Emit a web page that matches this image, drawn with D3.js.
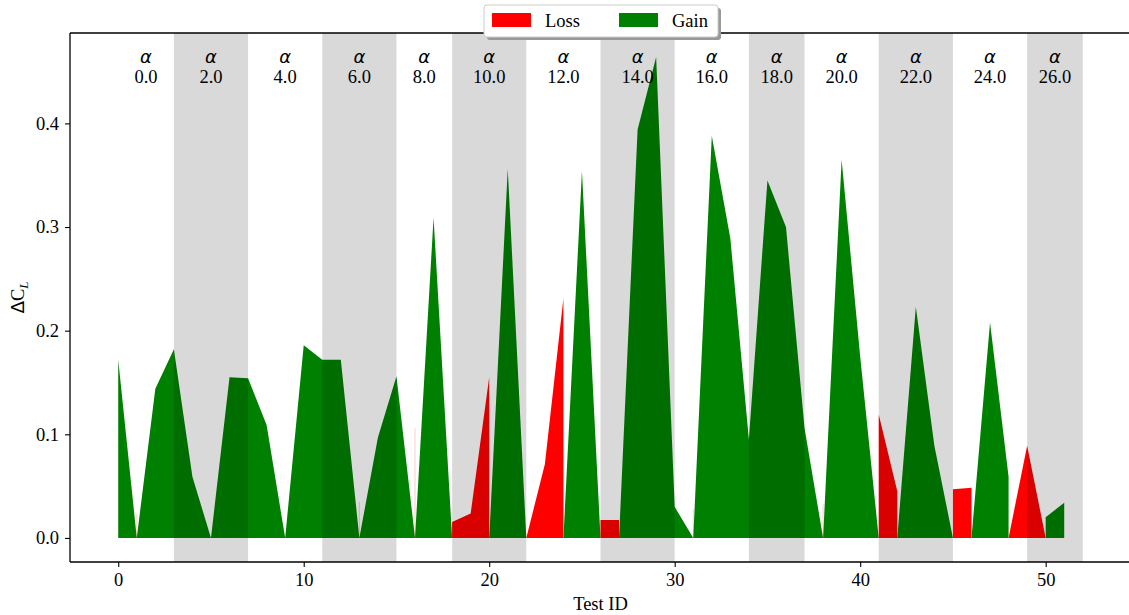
<!DOCTYPE html>
<html>
<head>
<meta charset="utf-8">
<script src="https://cdn.jsdelivr.net/npm/d3@7"></script>
<style>
  body { margin: 0; background: #fff; }
  svg text { font-family: "Liberation Serif", "Times New Roman", serif; }
</style>
</head>
<body>
<div id="chart"></div>
<script>
// ΔC_L per test id; null = not part of that fill
const gain = [0.172, 0, 0.144, 0.182, 0.059, 0, 0.155, 0.154, 0.109, 0,
              0.186, 0.172, 0.172, 0, 0.097, 0.156, 0, 0.309, 0, 0,
              0, 0.356, 0, 0, 0, 0.354, 0, 0, 0.394, 0.464,
              0.030, 0, 0.388, 0.289, 0.095, 0.345, 0.300, 0.106, 0, 0.365,
              0.175, 0, 0, 0.223, 0.089, 0, 0, 0.208, 0.059, null,
              0.020, 0.034];
const loss = [null, 0.023, null, null, null, null, null, null, null, null,
              null, null, null, 0.035, null, null, 0.106, null, 0.0155, 0.0236,
              0.155, null, 0, 0.071, 0.231, null, 0.0174, 0.0174, null, null,
              null, 0.028, null, null, null, null, null, null, 0.033, null,
              null, 0.119, 0.045, null, null, 0.047, 0.0485, null, 0, 0.089,
              0, null];
// alpha groups: first test id of each group
const groupStart = [0, 3, 7, 11, 15, 18, 22, 26, 30, 34, 37, 41, 45, 49];
const groupEnd = 52;
const alphas = [0, 2, 4, 6, 8, 10, 12, 14, 16, 18, 20, 22, 24, 26];
const xTicks = [0, 10, 20, 30, 40, 50];
const yTicks = [0, 0.1, 0.2, 0.3, 0.4];

const width = 1129, height = 615;
const margin = { left: 70, right: 1131, top: 33, bottom: 562 };

const svg = d3.select("#chart").append("svg")
    .attr("width", width)
    .attr("height", height);

const x = d3.scaleLinear().domain([-2.6, 54.6]).range([margin.left, margin.right]);
const y = d3.scaleLinear().domain([-0.0232, 0.4872]).range([margin.bottom, margin.top]);

const ids = d3.range(gain.length);

// fills
function drawFill(vals, color) {
    const area = d3.area()
        .defined(i => vals[i] != null)
        .x(i => x(i))
        .y0(y(0))
        .y1(i => y(vals[i]));
    svg.append("path")
        .datum(ids)
        .attr("d", area)
        .attr("fill", color);
    // single points give a zero width sliver
    ids.filter(i => vals[i] != null && vals[i - 1] == null && vals[i + 1] == null)
        .forEach(i => {
            svg.append("line")
                .attr("x1", x(i)).attr("x2", x(i))
                .attr("y1", y(0)).attr("y2", y(vals[i]))
                .attr("stroke", color)
                .attr("stroke-opacity", 0.2)
                .attr("stroke-width", 1);
        });
}
drawFill(gain, "#008000");
drawFill(loss, "#ff0000");

// alternating alpha bands (on top, translucent)
const groups = groupStart.map((s, i) => ({
    start: s,
    end: i < groupStart.length - 1 ? groupStart[i + 1] : groupEnd,
    alpha: alphas[i],
    shade: i % 2 === 1
}));

svg.selectAll(".band")
    .data(groups.filter(g => g.shade))
    .enter()
    .append("rect")
    .attr("class", "band")
    .attr("x", d => x(d.start))
    .attr("width", d => x(d.end) - x(d.start))
    .attr("y", margin.top)
    .attr("height", margin.bottom - margin.top)
    .attr("fill", "#000")
    .attr("fill-opacity", 0.15);

const lab = svg.selectAll(".alab")
    .data(groups)
    .enter()
    .append("g")
    .attr("class", "alab")
    .attr("transform", d => `translate(${x((d.start + d.end) / 2)},0)`);

lab.append("text")
    .attr("y", 63)
    .attr("text-anchor", "middle")
    .style("font-family", "'DejaVu Sans', sans-serif")
    .style("font-style", "italic")
    .attr("font-size", "18px")
    .text("α");

lab.append("text")
    .attr("y", 83)
    .attr("text-anchor", "middle")
    .attr("font-size", "18.5px")
    .text(d => d.alpha.toFixed(1));

// axes
const xAxis = svg.append("g")
    .attr("transform", `translate(0,${margin.bottom})`)
    .call(d3.axisBottom(x).tickValues(xTicks).tickSize(5).tickPadding(6).tickFormat(d3.format("d")));
const yAxis = svg.append("g")
    .attr("transform", `translate(${margin.left},0)`)
    .call(d3.axisLeft(y).tickValues(yTicks).tickSize(5).tickPadding(6).tickFormat(d3.format(".1f")));

[xAxis, yAxis].forEach(a => {
    a.select(".domain").remove();
    a.selectAll("line").attr("stroke", "#000").attr("stroke-width", 1.1);
    a.selectAll("text")
        .attr("fill", "#000")
        .attr("font-size", "18.5px")
        .style("font-family", "'Liberation Serif', serif");
});

// spines
svg.append("line").attr("x1", margin.left).attr("x2", margin.left).attr("y1", margin.top).attr("y2", margin.bottom)
    .attr("stroke", "#000").attr("stroke-width", 1.3);
svg.append("line").attr("x1", margin.left).attr("x2", margin.right).attr("y1", margin.bottom).attr("y2", margin.bottom)
    .attr("stroke", "#000").attr("stroke-width", 1.3);
svg.append("line").attr("x1", margin.left).attr("x2", margin.right).attr("y1", margin.top).attr("y2", margin.top)
    .attr("stroke", "#000").attr("stroke-width", 1.3);

// axis labels
svg.append("text")
    .attr("x", (margin.left + margin.right) / 2)
    .attr("y", 610)
    .attr("text-anchor", "middle")
    .attr("font-size", "18.5px")
    .text("Test ID");

const yl = svg.append("text")
    .attr("transform", `translate(24,${(margin.top + margin.bottom) / 2}) rotate(-90)`)
    .attr("text-anchor", "middle")
    .attr("font-size", "18.5px");
yl.append("tspan").style("font-family", "'DejaVu Sans', sans-serif").text("Δ");
yl.append("tspan").text("C");
yl.append("tspan").attr("dy", 4).attr("font-size", "13px").style("font-style", "italic").text("L");

// legend
const legendItems = [
    { label: "Loss", color: "#ff0000" },
    { label: "Gain", color: "#008000" }
];
const lg = svg.append("g").attr("transform", "translate(484,5)");
lg.append("rect")
    .attr("x", 3).attr("y", 3)
    .attr("width", 234).attr("height", 32).attr("rx", 3)
    .attr("fill", "#999");
lg.append("rect")
    .attr("width", 234).attr("height", 32).attr("rx", 3)
    .attr("fill", "#fff")
    .attr("stroke", "#ccc");
legendItems.forEach((d, i) => {
    const row = lg.append("g").attr("transform", `translate(${8 + i * 127},0)`);
    row.append("rect")
        .attr("x", 0).attr("y", 8)
        .attr("width", 39).attr("height", 14)
        .attr("fill", d.color);
    row.append("text")
        .attr("x", 53).attr("y", 22)
        .attr("font-size", "18.5px")
        .text(d.label);
});
</script>
</body>
</html>
